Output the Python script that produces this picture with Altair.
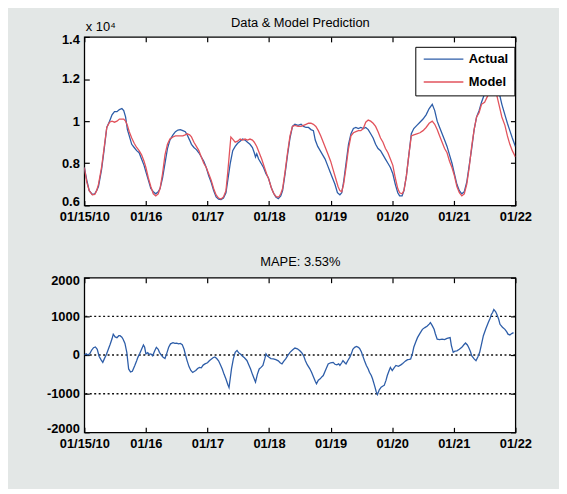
import altair as alt
import pandas as pd

FONT = "Liberation Sans, Arial, Helvetica, sans-serif"

# x positions are days after 01/15/10 00:00
tick_days = [0, 1, 2, 3, 4, 5, 6, 7]
tick_labels = ["01/15/10", "01/16", "01/17", "01/18", "01/19", "01/20", "01/21", "01/22"]
load_ticks = [0.6, 0.8, 1, 1.2, 1.4]          # units of 10^4
err_ticks = [-2000, -1000, 0, 1000, 2000]
err_grid = [-1000, 0, 1000]

series_names = ["Actual", "Model"]
series_colors = ["#2d5da8", "#e2535c"]

# (day, load x 10^4)
actual_pts = [
    (0.00, 0.78), (0.04, 0.72), (0.08, 0.67), (0.13, 0.652), (0.17, 0.655), (0.20, 0.67),
    (0.23, 0.69), (0.28, 0.77), (0.32, 0.86), (0.365, 0.97), (0.41, 1.0), (0.45, 1.03),
    (0.49, 1.045), (0.53, 1.045), (0.57, 1.055), (0.61, 1.06), (0.64, 1.05), (0.67, 1.02),
    (0.70, 0.96), (0.73, 0.93), (0.77, 0.89), (0.81, 0.875), (0.85, 0.86), (0.89, 0.85),
    (0.93, 0.82), (0.97, 0.79), (1.00, 0.76), (1.04, 0.72), (1.08, 0.68), (1.12, 0.665),
    (1.16, 0.655), (1.20, 0.665), (1.23, 0.68), (1.27, 0.73), (1.31, 0.80), (1.35, 0.87),
    (1.39, 0.91), (1.44, 0.935), (1.48, 0.95), (1.52, 0.958), (1.56, 0.96), (1.60, 0.955),
    (1.64, 0.95), (1.67, 0.935), (1.71, 0.91), (1.74, 0.89), (1.78, 0.875), (1.82, 0.865),
    (1.86, 0.85), (1.90, 0.83), (1.94, 0.81), (1.98, 0.78), (2.02, 0.74), (2.06, 0.71),
    (2.10, 0.67), (2.14, 0.64), (2.18, 0.63), (2.22, 0.628), (2.26, 0.635), (2.30, 0.66),
    (2.33, 0.72), (2.37, 0.80), (2.41, 0.86), (2.45, 0.88), (2.49, 0.895), (2.53, 0.905),
    (2.57, 0.915), (2.61, 0.91), (2.65, 0.90), (2.69, 0.89), (2.73, 0.875), (2.76, 0.85),
    (2.78, 0.83), (2.80, 0.845), (2.83, 0.82), (2.87, 0.80), (2.91, 0.78), (2.95, 0.75),
    (2.99, 0.73), (3.03, 0.69), (3.07, 0.66), (3.11, 0.64), (3.15, 0.632), (3.19, 0.645),
    (3.22, 0.67), (3.26, 0.75), (3.30, 0.84), (3.34, 0.92), (3.38, 0.975), (3.42, 0.985),
    (3.47, 0.98), (3.52, 0.985), (3.56, 0.975), (3.60, 0.97), (3.64, 0.97), (3.68, 0.96),
    (3.72, 0.955), (3.75, 0.91), (3.79, 0.88), (3.83, 0.86), (3.87, 0.84), (3.91, 0.82),
    (3.95, 0.79), (3.99, 0.76), (4.03, 0.73), (4.07, 0.70), (4.11, 0.66), (4.15, 0.65),
    (4.18, 0.66), (4.21, 0.71), (4.25, 0.80), (4.29, 0.89), (4.33, 0.94), (4.37, 0.965),
    (4.41, 0.97), (4.45, 0.965), (4.49, 0.97), (4.53, 0.965), (4.57, 0.97), (4.61, 0.96),
    (4.65, 0.94), (4.69, 0.92), (4.73, 0.89), (4.77, 0.87), (4.81, 0.86), (4.85, 0.84),
    (4.89, 0.82), (4.93, 0.80), (4.97, 0.78), (5.01, 0.75), (5.05, 0.70), (5.09, 0.66),
    (5.12, 0.645), (5.16, 0.645), (5.19, 0.67), (5.23, 0.74), (5.27, 0.84), (5.31, 0.94),
    (5.35, 0.965), (5.40, 0.98), (5.45, 0.995), (5.50, 1.01), (5.55, 1.03), (5.60, 1.06),
    (5.65, 1.08), (5.69, 1.05), (5.73, 1.0), (5.77, 0.97), (5.81, 0.94), (5.85, 0.91),
    (5.89, 0.88), (5.93, 0.84), (5.97, 0.80), (6.01, 0.75), (6.05, 0.70), (6.09, 0.67),
    (6.13, 0.655), (6.17, 0.665), (6.21, 0.71), (6.25, 0.79), (6.29, 0.87), (6.33, 0.96),
    (6.37, 1.02), (6.41, 1.05), (6.45, 1.09), (6.50, 1.13), (6.55, 1.16), (6.60, 1.18),
    (6.65, 1.19), (6.70, 1.17), (6.74, 1.13), (6.78, 1.08), (6.83, 1.03), (6.87, 0.99),
    (6.91, 0.955), (6.95, 0.92), (7.00, 0.88),
]

model_pts = [
    (0.00, 0.78), (0.04, 0.71), (0.08, 0.67), (0.13, 0.65), (0.17, 0.652), (0.20, 0.67),
    (0.23, 0.70), (0.28, 0.78), (0.32, 0.87), (0.365, 0.97), (0.41, 0.995), (0.45, 1.0),
    (0.49, 0.995), (0.53, 1.0), (0.57, 1.01), (0.61, 1.01), (0.64, 1.01), (0.67, 1.0),
    (0.70, 0.98), (0.73, 0.95), (0.77, 0.92), (0.81, 0.895), (0.85, 0.875), (0.89, 0.86),
    (0.93, 0.84), (0.97, 0.81), (1.00, 0.78), (1.04, 0.73), (1.08, 0.69), (1.12, 0.655),
    (1.16, 0.645), (1.20, 0.655), (1.23, 0.68), (1.27, 0.75), (1.31, 0.84), (1.35, 0.89),
    (1.39, 0.915), (1.44, 0.925), (1.48, 0.93), (1.52, 0.93), (1.56, 0.93), (1.60, 0.93),
    (1.64, 0.935), (1.67, 0.94), (1.71, 0.935), (1.74, 0.925), (1.78, 0.90), (1.82, 0.88),
    (1.86, 0.86), (1.90, 0.83), (1.94, 0.80), (1.98, 0.78), (2.02, 0.75), (2.06, 0.72),
    (2.10, 0.68), (2.14, 0.65), (2.18, 0.635), (2.22, 0.63), (2.26, 0.64), (2.30, 0.67),
    (2.33, 0.76), (2.36, 0.86), (2.38, 0.925), (2.41, 0.915), (2.45, 0.90), (2.49, 0.905),
    (2.53, 0.915), (2.57, 0.91), (2.61, 0.915), (2.65, 0.91), (2.69, 0.915), (2.73, 0.91),
    (2.76, 0.90), (2.80, 0.88), (2.84, 0.85), (2.88, 0.82), (2.92, 0.785), (2.96, 0.75),
    (3.00, 0.72), (3.04, 0.68), (3.08, 0.655), (3.12, 0.64), (3.16, 0.64), (3.19, 0.655),
    (3.22, 0.68), (3.26, 0.76), (3.30, 0.85), (3.34, 0.93), (3.38, 0.975), (3.42, 0.98),
    (3.47, 0.975), (3.52, 0.975), (3.56, 0.98), (3.60, 0.985), (3.64, 0.99), (3.68, 0.99),
    (3.72, 0.985), (3.76, 0.975), (3.80, 0.955), (3.84, 0.93), (3.88, 0.90), (3.92, 0.87),
    (3.96, 0.84), (4.00, 0.81), (4.04, 0.77), (4.08, 0.73), (4.12, 0.69), (4.15, 0.67),
    (4.18, 0.665), (4.21, 0.70), (4.25, 0.78), (4.29, 0.87), (4.33, 0.93), (4.37, 0.945),
    (4.41, 0.95), (4.45, 0.955), (4.49, 0.955), (4.53, 0.965), (4.57, 0.995), (4.61, 1.005),
    (4.65, 1.0), (4.69, 0.99), (4.73, 0.975), (4.77, 0.95), (4.81, 0.92), (4.85, 0.90),
    (4.89, 0.87), (4.93, 0.85), (4.97, 0.82), (5.01, 0.79), (5.05, 0.73), (5.09, 0.68),
    (5.12, 0.66), (5.16, 0.655), (5.19, 0.67), (5.23, 0.74), (5.27, 0.84), (5.31, 0.93),
    (5.35, 0.935), (5.40, 0.94), (5.45, 0.945), (5.50, 0.955), (5.55, 0.97), (5.60, 0.99),
    (5.65, 1.0), (5.69, 0.985), (5.73, 0.96), (5.77, 0.93), (5.81, 0.90), (5.85, 0.87),
    (5.89, 0.85), (5.93, 0.81), (5.97, 0.78), (6.01, 0.74), (6.05, 0.69), (6.09, 0.66),
    (6.13, 0.645), (6.17, 0.655), (6.21, 0.70), (6.25, 0.78), (6.29, 0.88), (6.33, 0.96),
    (6.37, 1.02), (6.41, 1.04), (6.45, 1.08), (6.50, 1.09), (6.55, 1.12), (6.60, 1.15),
    (6.65, 1.16), (6.70, 1.12), (6.74, 1.07), (6.78, 1.02), (6.83, 0.98), (6.87, 0.93),
    (6.91, 0.89), (6.95, 0.86), (7.00, 0.83),
]

# (day, error)
error_pts = [
    (0.00, 0), (0.03, 30), (0.06, 0), (0.09, 40), (0.12, 130), (0.15, 190), (0.18, 210),
    (0.21, 150), (0.24, -30), (0.27, -120), (0.30, -190), (0.33, -80), (0.36, 20), (0.39, 150),
    (0.42, 280), (0.45, 420), (0.47, 540), (0.50, 470), (0.53, 450), (0.56, 500), (0.58, 500),
    (0.61, 460), (0.63, 410), (0.66, 300), (0.69, 70), (0.72, -360), (0.75, -440), (0.78, -420),
    (0.82, -270), (0.85, -150), (0.87, -60), (0.90, 40), (0.93, 150), (0.96, 260), (0.98, 200),
    (1.00, 30), (1.03, 60), (1.05, 20), (1.08, 30), (1.11, -20), (1.14, 100), (1.17, 200),
    (1.20, 150), (1.22, 70), (1.25, 0), (1.28, -60), (1.31, -90), (1.34, 50), (1.37, 200),
    (1.40, 290), (1.44, 320), (1.47, 300), (1.50, 310), (1.53, 290), (1.56, 300), (1.59, 270),
    (1.62, 150), (1.64, 20), (1.67, -150), (1.70, -300), (1.73, -400), (1.76, -450),
    (1.79, -420), (1.81, -400), (1.84, -350), (1.87, -320), (1.90, -330), (1.93, -260),
    (1.96, -230), (2.00, -200), (2.03, -150), (2.06, -110), (2.09, -70), (2.12, -50),
    (2.15, -90), (2.18, -150), (2.21, -250), (2.24, -360), (2.27, -500), (2.30, -620),
    (2.33, -760), (2.35, -840), (2.37, -600), (2.39, -360), (2.42, -100), (2.45, 70),
    (2.48, 120), (2.51, 50), (2.54, 20), (2.57, -30), (2.60, -70), (2.64, -140), (2.67, -250),
    (2.70, -360), (2.73, -500), (2.76, -620), (2.78, -700), (2.81, -500), (2.84, -360),
    (2.87, -320), (2.90, -270), (2.93, -100), (2.95, 30), (2.97, -20), (3.00, -60),
    (3.03, -90), (3.07, -100), (3.11, -120), (3.15, -150), (3.18, -200), (3.21, -230),
    (3.24, -160), (3.27, -100), (3.30, -20), (3.34, 70), (3.38, 130), (3.42, 180), (3.46, 160),
    (3.50, 110), (3.53, 60), (3.56, -15), (3.59, -150), (3.62, -250), (3.66, -350),
    (3.69, -445), (3.72, -560), (3.75, -680), (3.77, -745), (3.80, -650), (3.83, -615),
    (3.86, -560), (3.88, -530), (3.92, -380), (3.96, -230), (4.00, -200), (4.04, -190),
    (4.07, -240), (4.10, -255), (4.13, -230), (4.15, -270), (4.18, -200), (4.20, -145),
    (4.23, -200), (4.25, -230), (4.28, -140), (4.31, -60), (4.34, 50), (4.36, 150), (4.39, 200),
    (4.42, 220), (4.45, 200), (4.47, 170), (4.50, 80), (4.52, -15), (4.55, -150), (4.58, -270),
    (4.61, -360), (4.63, -445), (4.66, -530), (4.68, -615), (4.70, -720), (4.72, -830),
    (4.74, -950), (4.76, -1025), (4.79, -900), (4.82, -830), (4.85, -800), (4.87, -785),
    (4.90, -650), (4.92, -530), (4.95, -400), (4.97, -320), (5.00, -400), (5.03, -330),
    (5.06, -270), (5.10, -290), (5.14, -255), (5.17, -220), (5.19, -190), (5.22, -150),
    (5.25, -120), (5.28, -110), (5.30, -100), (5.33, 50), (5.35, 200), (5.38, 330), (5.41, 450),
    (5.45, 560), (5.49, 665), (5.53, 710), (5.57, 750), (5.60, 800), (5.62, 840), (5.65, 760),
    (5.68, 665), (5.70, 550), (5.73, 410), (5.77, 400), (5.81, 410), (5.85, 400), (5.89, 430),
    (5.94, 450), (5.96, 250), (5.99, 70), (6.02, 100), (6.05, 110), (6.09, 150), (6.13, 200),
    (6.16, 260), (6.19, 310), (6.22, 260), (6.24, 200), (6.27, 90), (6.29, -15), (6.33, -100),
    (6.36, -145), (6.39, -50), (6.42, 70), (6.45, 280), (6.48, 500), (6.52, 680), (6.56, 840),
    (6.59, 950), (6.61, 1050), (6.63, 1100), (6.65, 1180), (6.68, 1120), (6.70, 1050),
    (6.73, 920), (6.75, 795), (6.79, 720), (6.83, 665), (6.86, 600), (6.88, 540), (6.91, 520),
    (6.94, 555), (6.97, 580),
]

# ---------------------------------------------------------------- tables
load_df = pd.concat([
    pd.DataFrame(actual_pts, columns=["day", "load"]).assign(series=series_names[0]),
    pd.DataFrame(model_pts, columns=["day", "load"]).assign(series=series_names[1]),
], ignore_index=True)
err_df = pd.DataFrame(error_pts, columns=["day", "err"])
grid_df = pd.DataFrame({"level": err_grid})

W, H1, H2 = 435, 170, 156
TICK = 5
EXT = 81
LABEL_SIZE = 13
TITLE_SIZE = 13

label_expr = "[" + ",".join(repr(s) for s in tick_labels) + "][round(datum.value)]"
x_scale = alt.Scale(domain=[tick_days[0], tick_days[-1]], nice=False, zero=False)
y1_scale = alt.Scale(domain=[load_ticks[0], load_ticks[-1]], nice=False, zero=False)
y2_scale = alt.Scale(domain=[err_ticks[0], err_ticks[-1]], nice=False, zero=False)


def x_axis_bottom():
    return alt.Axis(orient="bottom", values=tick_days, labelExpr=label_expr, offset=-TICK,
                    tickSize=TICK, labelPadding=5, title=None, labelFlush=False,
                    labelOverlap=False, labelBound=False)


def x_axis_top(title, title_y):
    return alt.Axis(orient="top", values=tick_days, offset=-TICK, tickSize=TICK, labels=False,
                    minExtent=0, maxExtent=0,
                    title=title, titleX=W / 2, titleY=title_y, titleAlign="center",
                    titleBaseline="alphabetic", titleAngle=0, titleFont=FONT,
                    titleFontSize=TITLE_SIZE, titleFontWeight="normal", titleColor="black")


def y_axis_left(vals, **kw):
    return alt.Axis(orient="left", values=vals, labelExpr="'' + datum.value", offset=-TICK,
                    tickSize=TICK, labelPadding=5, minExtent=EXT, maxExtent=EXT,
                    labelFlush=True, labelFlushOffset=3, **kw)


def y_axis_right(vals):
    return alt.Axis(orient="right", values=vals, offset=-TICK, tickSize=TICK, labels=False,
                    title=None, minExtent=0, maxExtent=0)


# ---------------------------------------------------------------- top panel
top_lines = alt.Chart(load_df).mark_line(strokeWidth=1.3, clip=True).encode(
    x=alt.X("day:Q", scale=x_scale, axis=x_axis_bottom()),
    y=alt.Y("load:Q", scale=y1_scale, axis=y_axis_left(
        load_ticks, title="x 10\u2074", titleAngle=0, titleX=-4, titleY=-6, titleAlign="left",
        titleBaseline="alphabetic", titleFont=FONT, titleFontSize=TITLE_SIZE,
        titleFontWeight="normal", titleColor="black")),
    color=alt.Color("series:N", scale=alt.Scale(domain=series_names, range=series_colors),
                    legend=alt.Legend(
                        orient="none", legendX=334, legendY=10, title=None,
                        fillColor="white", strokeColor="black", padding=6, cornerRadius=0,
                        symbolType="M-4,0H4", symbolSize=100, symbolStrokeWidth=1.3,
                        symbolOffset=16, labelOffset=19, rowPadding=9,
                        labelFont=FONT, labelFontSize=LABEL_SIZE, labelFontWeight="bold",
                        labelColor="black")),
    order=alt.Order("day:Q"),
)

top_frame = alt.Chart(load_df).mark_line(opacity=0).encode(
    x=alt.X("day:Q", scale=x_scale, axis=x_axis_top("Data & Model Prediction", -16)),
    y=alt.Y("load:Q", scale=y1_scale, axis=y_axis_right(load_ticks)),
)

top = alt.layer(top_lines, top_frame).resolve_axis(
    x="independent", y="independent").properties(width=W, height=H1)

# ---------------------------------------------------------------- bottom panel
grid = alt.Chart(grid_df).mark_rule(color="#111111", strokeWidth=1.4, strokeDash=[2, 2.5]).encode(
    y=alt.Y("level:Q", scale=y2_scale, axis=None),
)

err_line = alt.Chart(err_df).mark_line(color=series_colors[0], strokeWidth=1.3, clip=True).encode(
    x=alt.X("day:Q", scale=x_scale, axis=x_axis_bottom()),
    y=alt.Y("err:Q", scale=y2_scale, axis=y_axis_left(err_ticks, title=None)),
    order=alt.Order("day:Q"),
)

bottom_frame = alt.Chart(err_df).mark_line(opacity=0).encode(
    x=alt.X("day:Q", scale=x_scale, axis=x_axis_top("MAPE: 3.53%", -17)),
    y=alt.Y("err:Q", scale=y2_scale, axis=y_axis_right(err_ticks)),
)

bottom = alt.layer(grid, err_line, bottom_frame).resolve_axis(
    x="independent", y="independent").properties(width=W, height=H2)

chart = alt.vconcat(top, bottom, spacing=31).properties(
    background="#e3e7e6",
    padding={"left": 0, "top": 5, "right": 27, "bottom": 36},
).configure_view(
    stroke="black", strokeWidth=1.3, fill="white",
).configure_axis(
    labelFont=FONT, labelFontSize=LABEL_SIZE, labelFontWeight="bold", labelColor="black",
    tickColor="black", tickWidth=1.2, domain=False, grid=False,
)

chart.save("out.html", embed_options={"renderer": "svg", "actions": False})
